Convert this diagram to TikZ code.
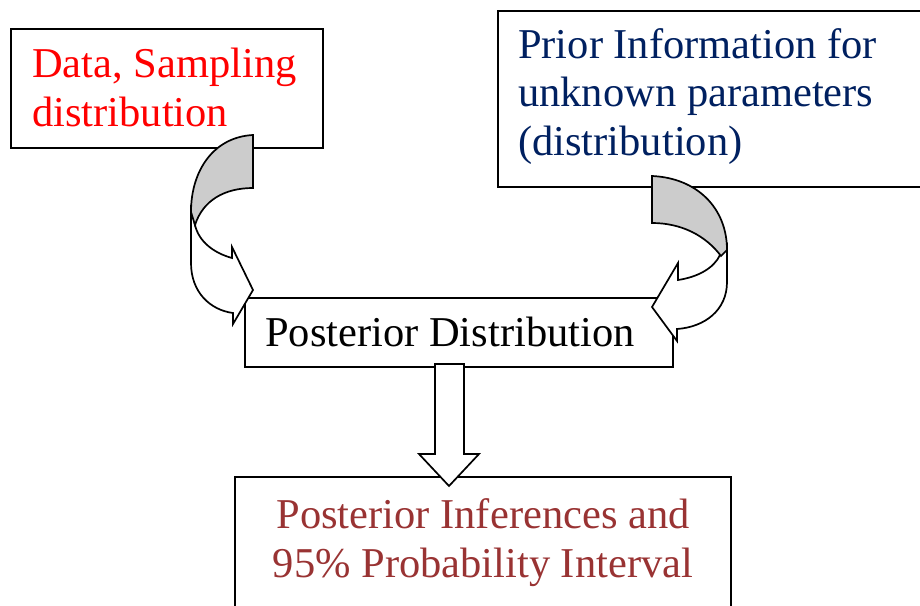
\documentclass[tikz,border=0pt]{standalone}
\usepackage{fontspec}
\setmainfont{Liberation Serif}
\definecolor{navytxt}{HTML}{002060}
\definecolor{browntxt}{HTML}{993333}
\definecolor{foldgray}{HTML}{CCCCCC}
\begin{document}
\begin{tikzpicture}[x=1pt,y=-1pt,
  boxstyle/.style={draw=black, line width=1.7pt, inner sep=0pt, anchor=north west},
  txt/.style={font=\fontsize{42.5}{48.5}\selectfont, inner sep=0pt, anchor=base west, align=left},
  blockarrow/.style={draw=black, line width=1.7pt, line join=miter, fill=white},
  foldpart/.style={draw=black, line width=1.7pt, fill=foldgray}]
\useasboundingbox (0,0) rectangle (920,605);
\clip (0,0) rectangle (920,605);
% boxes
\node[boxstyle, minimum width=312pt, minimum height=119pt] (data) at (10,28) {};
\node[boxstyle, minimum width=440pt, minimum height=176pt] (prior) at (497,10) {};
\node[boxstyle, minimum width=428pt, minimum height=69pt] (post) at (244,297) {};
\node[boxstyle, minimum width=496pt, minimum height=160pt] (infer) at (234,476) {};
% texts (anchor at baseline of last line)
\node[txt, text=red] (datatxt) at (32,126) {Data, Sampling\\distribution};
\node[txt, text=navytxt] (priortxt) at (518,155) {Prior Information for\\unknown parameters\\(distribution)};
\node[txt] (posttxt) at (265,346) {Posterior Distribution};
\node[txt, text=browntxt, align=center, anchor=base] (infertxt) at (483,577) {Posterior Inferences and\\95\% Probability Interval};
% left curved arrow (data -> posterior)
\draw[blockarrow] (191,205) -- (191,263) .. controls (191,292) and (210,310) .. (233,313)
  -- (233,324) -- (253,290) -- (232,247) -- (232,258)
  .. controls (214,253) and (199,242) .. (195,225) -- cycle;
\draw[foldpart] (253,135) .. controls (214,137) and (191,170) .. (191,212) -- (195,225)
  .. controls (203,200) and (225,188) .. (253,188) -- cycle;
% right curved arrow (prior -> posterior)
\draw[blockarrow] (727,245) -- (727,282) .. controls (727,310) and (705,327) .. (677,329)
  -- (677,341) -- (652,307) -- (678,263) -- (678,280)
  .. controls (698,277) and (714,268) .. (720,255) -- cycle;
\draw[foldpart] (652,176) .. controls (697,178) and (727,208) .. (727,250) -- (721,256)
  .. controls (706,236) and (682,223) .. (652,223) -- cycle;
% down arrow (posterior -> inferences)
\draw[blockarrow] (435,364) -- (464,364) -- (464,454) -- (479,454) -- (449,486)
  -- (419,454) -- (435,454) -- cycle;
\end{tikzpicture}
\end{document}
